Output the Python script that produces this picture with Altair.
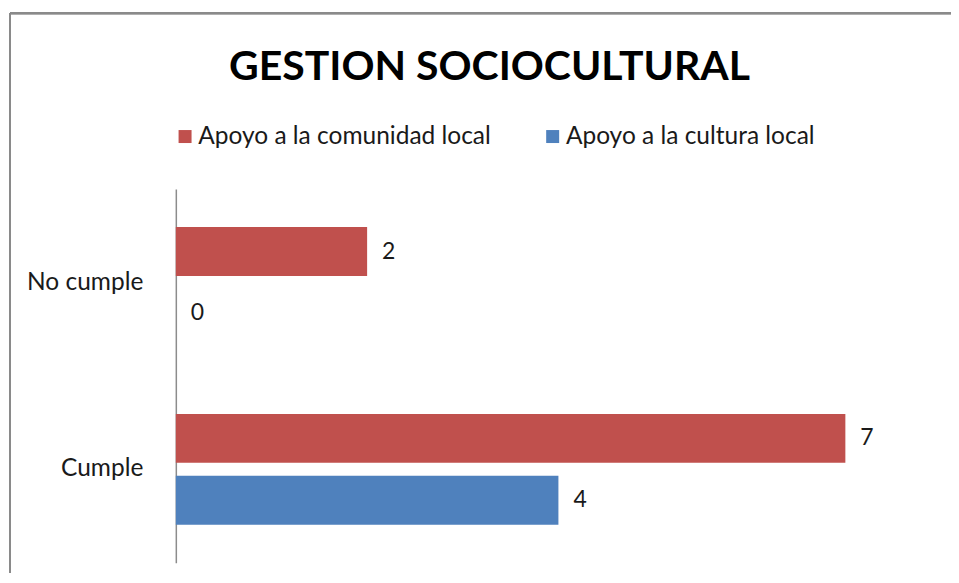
import altair as alt
import pandas as pd

categories = ["No cumple", "Cumple"]
series = ["Apoyo a la comunidad local", "Apoyo a la cultura local"]
comunidad = [2, 7]
cultura = [0, 4]
colors = ["#C0504D", "#4F81BD"]

rows = []
for i, c in enumerate(categories):
    rows.append({"cat": c, "serie": series[0], "val": comunidad[i]})
    rows.append({"cat": c, "serie": series[1], "val": cultura[i]})
df = pd.DataFrame(rows)

FONT = "Lato"

y_enc = alt.Y("cat:N", sort=categories, title=None,
              scale=alt.Scale(paddingInner=0, paddingOuter=0),
              axis=alt.Axis(ticks=False, domainColor="#8c8c8c", domainWidth=1.5,
                            labelPadding=33, labelFontSize=24.5, labelFont=FONT,
                            labelColor="#1a1a1a", grid=False))
yoff = alt.YOffset("serie:N", sort=series,
                   scale=alt.Scale(paddingInner=0.21, paddingOuter=0.613))
x_enc = alt.X("val:Q", scale=alt.Scale(domain=[0, 8], nice=False), axis=None)

bars = alt.Chart(df).mark_bar(cornerRadius=0).encode(
    x=x_enc, y=y_enc, yOffset=yoff,
    color=alt.Color("serie:N", sort=series,
                    scale=alt.Scale(domain=series, range=colors),
                    legend=alt.Legend(title=None, orient="none", legendX=-3, legendY=-65,
                                      direction="horizontal", symbolType="square",
                                      symbolSize=169, symbolStrokeWidth=0,
                                      labelFontSize=24.5, labelFont=FONT, labelColor="#1a1a1a",
                                      labelLimit=500, columnPadding=49, labelOffset=1)),
)

labels = alt.Chart(df).mark_text(align="left", baseline="middle", dx=15,
                                 fontSize=23, font=FONT, color="#1a1a1a").encode(
    x=x_enc, y=alt.Y("cat:N", sort=categories), yOffset=yoff, text="val:Q"
)

border_top = alt.Chart(df).mark_rule(color="#8a8a8a", strokeWidth=2).encode(
    x=alt.value(-166), x2=alt.value(800), y=alt.value(-176)
)
border_left = alt.Chart(df).mark_rule(color="#8a8a8a", strokeWidth=2).encode(
    x=alt.value(-166), y=alt.value(-176), y2=alt.value(400)
)

chart = alt.layer(border_top, border_left, bars, labels).properties(
    width=766, height=374,
    autosize=alt.AutoSizeParams(type="none"),
    padding={"left": 168, "top": 181, "right": 10, "bottom": 10},
    title=alt.TitleParams("GESTION SOCIOCULTURAL", font=FONT, fontSize=41,
                          fontWeight="bold", color="#000000", anchor="middle",
                          baseline="alphabetic", dx=-69, offset=-109),
).configure_view(stroke=None)

chart.save("out.html", embed_options={"renderer": "svg", "actions": False})
